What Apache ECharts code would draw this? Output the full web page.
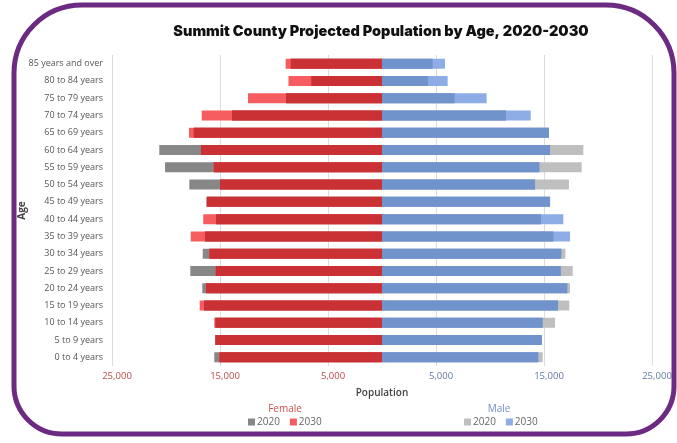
<!DOCTYPE html>
<html>
<head>
<meta charset="utf-8">
<script src="https://cdn.jsdelivr.net/npm/echarts@6/dist/echarts.min.js"></script>
<style>
html,body{margin:0;padding:0;background:#fff;}
#chart{width:677px;height:443px;}
</style>
</head>
<body>
<div id="chart"></div>
<script>
const categories = ['85 years and over','80 to 84 years','75 to 79 years','70 to 74 years','65 to 69 years','60 to 64 years','55 to 59 years','50 to 54 years','45 to 49 years','40 to 44 years','35 to 39 years','30 to 34 years','25 to 29 years','20 to 24 years','15 to 19 years','10 to 14 years','5 to 9 years','0 to 4 years'];
const female2020 = [8450, 6550, 8890, 13890, 17440, 20620, 20090, 17840, 16230, 15370, 16390, 16600, 17750, 16640, 16480, 15430, 15430, 15530];
const female2030 = [8920, 8660, 12410, 16690, 17870, 16760, 15580, 15000, 16230, 16550, 17710, 15990, 15400, 16300, 16880, 15530, 15430, 15060];
const male2020 = [4690, 4260, 6730, 11480, 15460, 18640, 18490, 17310, 15560, 14720, 15860, 16980, 17660, 17410, 17340, 16020, 14810, 14880];
const male2030 = [5830, 6080, 9690, 13770, 15460, 15560, 14570, 14170, 15560, 16790, 17410, 16600, 16550, 17160, 16300, 14880, 14810, 14470];
const axisTicks = [-25000, -15000, -5000, 5000, 15000, 25000];

const C = {
  f20: '#878787', f30: '#f65d61', fBoth: '#c93135',
  m20: '#bfbfbf', m30: '#8eade6', mBoth: '#7193cb'
};
const font = '"Open Sans", sans-serif';
const neg = a => a.map(v => -v);
const minOf = (a, b) => a.map((v, i) => Math.min(v, b[i]));

function bar(name, data, color, z) {
  return {
    name, type: 'bar', data, barWidth: 10, barGap: '-100%', z,
    itemStyle: { color }, silent: true
  };
}

const chart = echarts.init(document.getElementById('chart'));
chart.setOption({
  animation: false,
  title: [
    { text: 'Summit County Projected Population by Age, 2020-2030', left: 376, top: 19, textAlign: 'center',
      textStyle: { fontFamily: 'Inter, sans-serif', fontWeight: 900, fontSize: 14.5, color: '#111' } },
    { text: 'Female', left: 280, top: 399, textAlign: 'center',
      textStyle: { fontFamily: font, fontWeight: 'normal', fontSize: 10, color: '#c8504f' } },
    { text: 'Male', left: 494, top: 399, textAlign: 'center',
      textStyle: { fontFamily: font, fontWeight: 'normal', fontSize: 10, color: '#6f8fc4' } }
  ],
  legend: [
    { data: ['Female 2020', 'Female 2030'], left: 243, top: 412, itemWidth: 7, itemHeight: 7, itemGap: 10,
      icon: 'rect', formatter: n => n.split(' ')[1],
      textStyle: { fontFamily: font, fontSize: 10, color: '#666', padding: [0, 0, 0, -3] } },
    { data: ['Male 2020', 'Male 2030'], left: 459, top: 412, itemWidth: 7, itemHeight: 7, itemGap: 10,
      icon: 'rect', formatter: n => n.split(' ')[1],
      textStyle: { fontFamily: font, fontSize: 10, color: '#666', padding: [0, 0, 0, -3] } }
  ],
  grid: { left: 112, right: 25, top: 55, bottom: 77, containLabel: false },
  xAxis: {
    type: 'value', min: -25000, max: 25000, interval: 10000,
    name: 'Population', nameLocation: 'middle', nameGap: 22,
    nameTextStyle: { fontFamily: font, fontSize: 10, fontWeight: 600, color: '#444' },
    axisLine: { show: false }, axisTick: { show: false },
    splitLine: { show: true, lineStyle: { color: '#dcdcdc', width: 1 } },
    axisLabel: {
      fontFamily: font, fontSize: 9.5, margin: 5,
      customValues: axisTicks,
      padding: [0, 0, 0, 10],
      formatter: v => Math.abs(v).toLocaleString('en-US'),
      color: v => (v < 0 ? '#b8494c' : '#6479a0')
    }
  },
  yAxis: {
    type: 'category', data: categories, inverse: true,
    name: 'Age', nameLocation: 'middle', nameGap: 85, nameRotate: 90, nameMoveOverlap: false,
    nameTextStyle: { fontFamily: font, fontSize: 10, fontWeight: 700, color: '#444' },
    axisLine: { show: false }, axisTick: { show: false },
    axisLabel: { fontFamily: font, fontSize: 9, color: '#555', margin: 9 }
  },
  series: [
    bar('Female 2020', neg(female2020), C.f20, 1),
    bar('Female 2030', neg(female2030), C.f30, 2),
    bar('Female overlap', neg(minOf(female2020, female2030)), C.fBoth, 3),
    bar('Male 2020', male2020, C.m20, 1),
    bar('Male 2030', male2030, C.m30, 2),
    bar('Male overlap', minOf(male2020, male2030), C.mBoth, 3)
  ],
  graphic: [
    { type: 'rect', z: 100, silent: true,
      shape: { x: 14, y: 5, width: 660, height: 429, r: [68, 68, 48, 48] },
      style: { fill: 'none', stroke: '#6c2a82', lineWidth: 5 } }
  ]
});
</script>
</body>
</html>
